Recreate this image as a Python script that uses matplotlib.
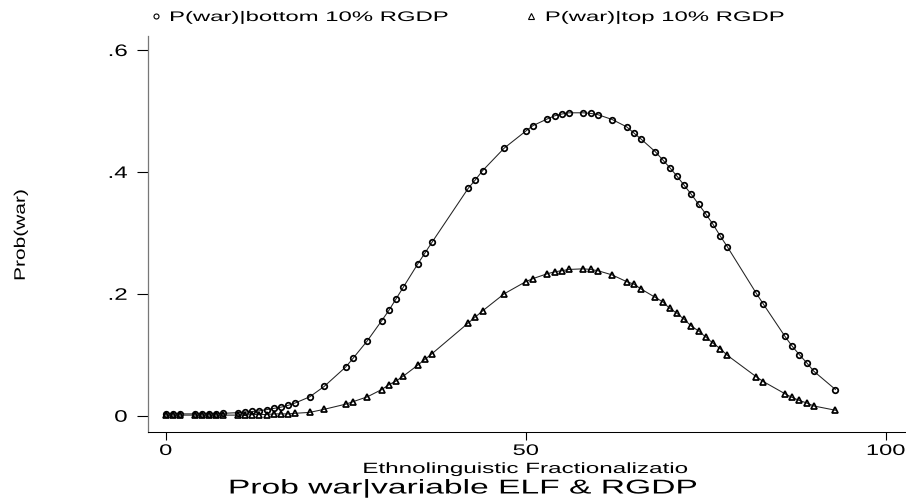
import matplotlib
matplotlib.use("Agg")
import matplotlib.pyplot as plt
from matplotlib.lines import Line2D
from matplotlib.patheffects import AbstractPathEffect
from matplotlib.transforms import Affine2D

plt.rcParams["font.family"] = ["Liberation Sans", "DejaVu Sans"]

# ELF values of the sample (same x for both series)
elf = [0, 1, 2, 4, 5, 6, 7, 8, 10, 11, 12, 13, 14, 15, 16, 17, 18, 20, 22, 25,
       26, 28, 30, 31, 32, 33, 35, 36, 37, 42, 43, 44, 47, 50, 51, 53, 54, 55,
       56, 58, 59, 60, 62, 64, 65, 66, 68, 69, 70, 71, 72, 73, 74, 75, 76, 77,
       78, 82, 83, 86, 87, 88, 89, 90, 93]

p_bottom = [0.003, 0.003, 0.003, 0.003, 0.003, 0.003, 0.003, 0.004, 0.005, 0.006,
            0.007, 0.008, 0.010, 0.012, 0.014, 0.017, 0.021, 0.031, 0.048, 0.080,
            0.094, 0.123, 0.156, 0.173, 0.192, 0.211, 0.249, 0.267, 0.285, 0.373,
            0.387, 0.402, 0.439, 0.467, 0.476, 0.487, 0.492, 0.495, 0.497, 0.497,
            0.496, 0.494, 0.486, 0.474, 0.464, 0.454, 0.433, 0.420, 0.407, 0.393,
            0.378, 0.363, 0.347, 0.331, 0.314, 0.295, 0.277, 0.201, 0.183, 0.130,
            0.114, 0.100, 0.087, 0.073, 0.043]

p_top = [0.001, 0.001, 0.001, 0.001, 0.001, 0.001, 0.001, 0.001, 0.001, 0.001,
         0.002, 0.002, 0.002, 0.003, 0.003, 0.003, 0.004, 0.0055, 0.0105, 0.019,
         0.023, 0.031, 0.043, 0.051, 0.057, 0.065, 0.083, 0.0925, 0.102, 0.152,
         0.162, 0.172, 0.200, 0.220, 0.225, 0.233, 0.236, 0.238, 0.240, 0.241,
         0.240, 0.238, 0.231, 0.220, 0.216, 0.208, 0.194, 0.187, 0.176, 0.168,
         0.158, 0.147, 0.139, 0.129, 0.119, 0.110, 0.099, 0.064, 0.056, 0.036,
         0.030, 0.025, 0.021, 0.016, 0.009]

series_labels = ["P(war)|bottom 10% RGDP", "P(war)|top 10% RGDP"]
y_ticks = [0, 0.2, 0.4, 0.6]
y_ticklabels = ["0", ".2", ".4", ".6"]
x_ticks = [0, 50, 100]
x_ticklabels = ["0", "50", "100"]


class Stretch(AbstractPathEffect):
    """Widen the glyphs horizontally (the Stata export has wide lettering)."""

    def __init__(self, sx, anchor="center"):
        super().__init__()
        self.sx = sx
        self.anchor = anchor

    def draw_path(self, renderer, gc, tpath, affine, rgbFace=None):
        ext = tpath.get_extents()
        if self.anchor == "left":
            cx = ext.x0
        elif self.anchor == "right":
            cx = ext.x1
        else:
            cx = (ext.x0 + ext.x1) / 2
        widen = Affine2D().translate(-cx, 0).scale(self.sx, 1).translate(cx, 0)
        renderer.draw_path(gc, tpath, widen + affine, rgbFace)


W, H = 906, 501
fig = plt.figure(figsize=(W / 100, H / 100), dpi=100)
ax = fig.add_axes([148 / W, 1 - 432 / H, (W - 148) / W, (432 - 36) / H])

ax.plot(elf, p_bottom, color="#222222", linewidth=0.75, marker="o", markersize=4,
        markerfacecolor="none", markeredgecolor="black", markeredgewidth=1.25)
ax.plot(elf, p_top, color="#222222", linewidth=0.75, marker="^", markersize=4.8,
        markerfacecolor="none", markeredgecolor="black", markeredgewidth=1.25)

ax.set_xlim(-2.46, 102.8)
ax.set_ylim(-0.0267, 0.623)
ax.set_xticks(x_ticks)
ax.set_xticklabels(x_ticklabels)
ax.set_yticks(y_ticks)
ax.set_yticklabels(y_ticklabels)
ax.tick_params(axis="y", length=7.9, width=0.8, pad=7, labelsize=12)
ax.tick_params(axis="x", length=5.6, width=0.8, pad=3, labelsize=11)
for lbl in ax.get_yticklabels():
    lbl.set_path_effects([Stretch(1.45, "right")])
for lbl in ax.get_xticklabels():
    lbl.set_path_effects([Stretch(1.55, "center")])

for side in ["top", "right"]:
    ax.spines[side].set_visible(False)
ax.spines["left"].set_color("#777777")
ax.spines["left"].set_linewidth(0.9)
ax.spines["bottom"].set_linewidth(0.75)

ax.set_xlabel("Ethnolinguistic Fractionalizatio", fontsize=10.7, va="baseline")
ax.xaxis.set_label_coords((526 - 148) / (W - 148), -(473 - 432) / (432 - 36))
ax.xaxis.label.set_path_effects([Stretch(1.63, "center")])

ylab = fig.text(20.8 / W, 1 - 235 / H, "Prob(war)", rotation=90, fontsize=11,
                ha="center", va="center")
ylab.set_path_effects([Stretch(1.37, "center")])

title = fig.text(229 / W, 1 - 493.5 / H, "Prob war|variable ELF & RGDP", fontsize=14.4,
                 ha="left", va="baseline")
title.set_path_effects([Stretch(1.68, "left")])

handles = [
    Line2D([], [], linestyle="none", marker="o", markersize=3.6, markerfacecolor="none",
           markeredgecolor="black", markeredgewidth=0.8),
    Line2D([], [], linestyle="none", marker="^", markersize=4, markerfacecolor="none",
           markeredgecolor="black", markeredgewidth=0.8),
]
leg = fig.legend(handles, series_labels, loc="center left", bbox_to_anchor=(150 / W, 1 - 17 / H),
                 ncol=2, frameon=False, fontsize=10, handlelength=0.8, handletextpad=0.63,
                 columnspacing=13.9, borderpad=0, borderaxespad=0)
for t in leg.get_texts():
    t.set_path_effects([Stretch(1.72, "left")])

fig.savefig("out.png", dpi=100)
